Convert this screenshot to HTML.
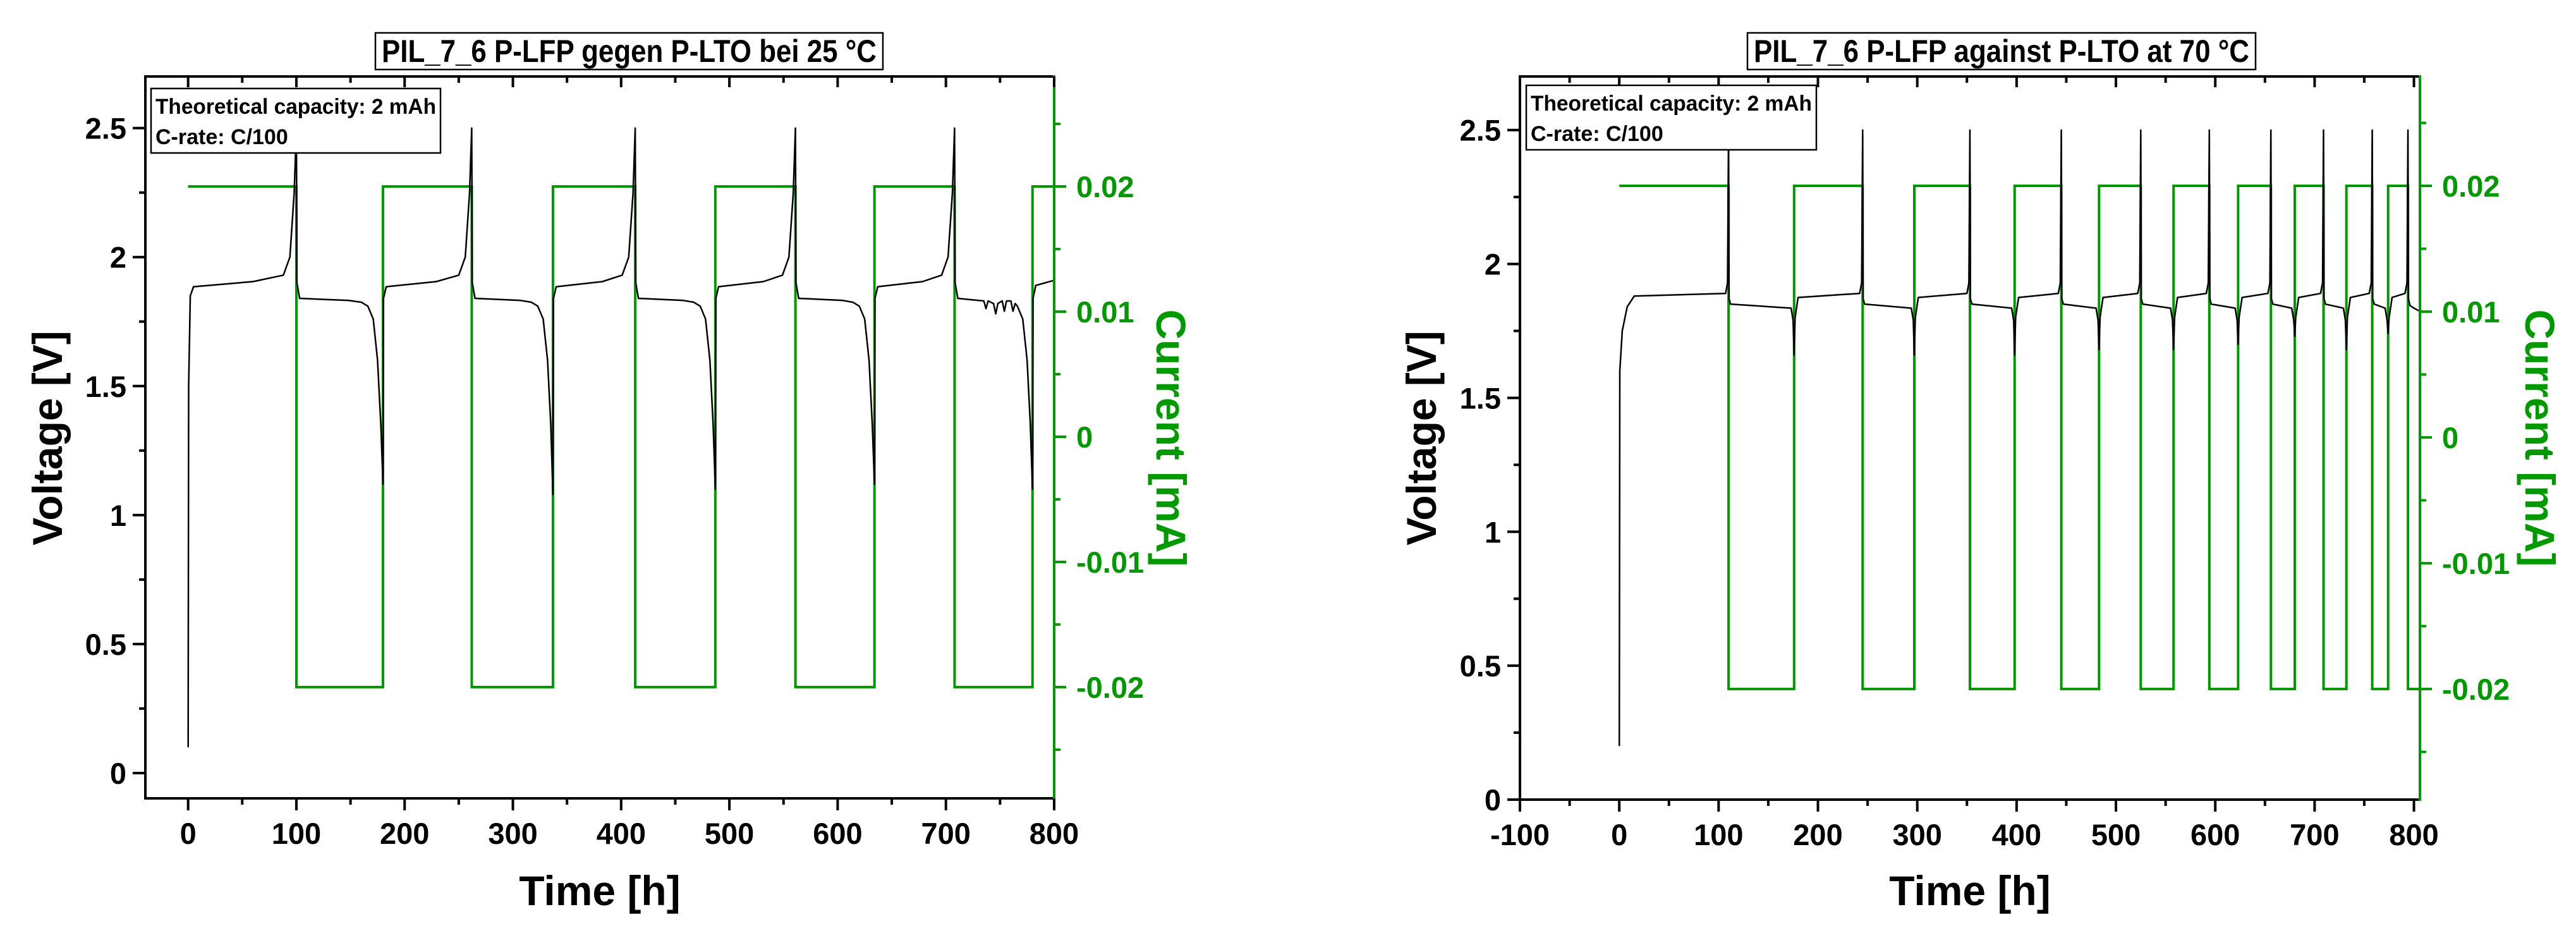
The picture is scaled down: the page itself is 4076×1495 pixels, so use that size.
<!DOCTYPE html>
<html><head><meta charset="utf-8"><style>
html,body{margin:0;padding:0;background:#fff;}
svg{display:block;}
text{font-family:"Liberation Sans Narrow","Liberation Sans",sans-serif;font-weight:bold;}
</style></head><body>
<svg id="svg" width="4076" height="1495" viewBox="0 0 4076 1495" xmlns="http://www.w3.org/2000/svg"></svg>
<script>
// ---------- data: left chart (25 °C) ----------
const leftCurrentSwitches = [0, 100, 180, 262, 337, 413, 487, 561, 634, 708, 780, 800];
const leftCurrentValues = [0.02, -0.02, 0.02, -0.02, 0.02, -0.02, 0.02, -0.02, 0.02, -0.02, 0.02];
const leftChargeStarts = [0, 180, 337, 487, 634, 780];
const leftChargeEnds = [100, 262, 413, 561, 708];
const leftDischargeMins = [1.12, 1.08, 1.1, 1.12, 1.1];
const leftChargePlateau = [1.895, 1.895, 1.895, 1.895, 1.895, 1.9];
const leftDischargePlateau = [1.84, 1.84, 1.84, 1.84, 1.84];
const leftWobble = [[735,1.83],[737,1.8],[739,1.83],[744,1.82],[746,1.78],[748,1.82],[752,1.83],[754,1.79],[756,1.83],[760,1.83],[762,1.79],[764,1.82]];
const leftXTicks = [0, 100, 200, 300, 400, 500, 600, 700, 800];
const leftVTicks = [0, 0.5, 1, 1.5, 2, 2.5];
const leftVTickLabels = ["0", "0.5", "1", "1.5", "2", "2.5"];
// ---------- data: right chart (70 °C) ----------
const rightCurrentSwitches = [0, 110, 176, 245, 297, 353, 398, 445, 483, 525, 558, 594, 623, 656, 680, 709, 732, 758, 774, 794, 805];
const rightCurrentValues = [0.02, -0.02, 0.02, -0.02, 0.02, -0.02, 0.02, -0.02, 0.02, -0.02, 0.02, -0.02, 0.02, -0.02, 0.02, -0.02, 0.02, -0.02, 0.02, -0.02];
const rightChargeStarts = [0, 176, 297, 398, 483, 558, 623, 680, 732, 774];
const rightChargeEnds = [110, 245, 353, 445, 525, 594, 656, 709, 758, 794];
const rightDischargeMins = [1.66, 1.66, 1.66, 1.68, 1.68, 1.7, 1.73, 1.68, 1.74];
const rightChargePlateau = [1.885, 1.885, 1.885, 1.885, 1.885, 1.885, 1.885, 1.885, 1.885, 1.885];
const rightDischargePlateau = [1.85, 1.85, 1.85, 1.85, 1.85, 1.85, 1.85, 1.85, 1.85, 1.845];
const rightXTicks = [-100, 0, 100, 200, 300, 400, 500, 600, 700, 800];
const rightVTicks = [0, 0.5, 1, 1.5, 2, 2.5];
const rightVTickLabels = ["0", "0.5", "1", "1.5", "2", "2.5"];
const currentTicks = [-0.02, -0.01, 0, 0.01, 0.02];
const currentTickLabels = ["-0.02", "-0.01", "0", "0.01", "0.02"];

const NS = "http://www.w3.org/2000/svg";
const svg = document.getElementById('svg');
const GREEN = "#009900";
function el(tag, attrs, parent){const e=document.createElementNS(NS,tag);for(const k in attrs)e.setAttribute(k,attrs[k]);(parent||svg).appendChild(e);return e;}

function buildLeftVoltage(){
  const p=[[0,0.1],[0.5,1.5],[2,1.85],[5,1.885]];
  for(let i=0;i<leftChargeEnds.length;i++){
    const s=leftChargeStarts[i], e=leftChargeEnds[i], n=leftChargeStarts[i+1];
    if(i>0){p.push([s+0.5,1.84],[s+3,leftChargePlateau[i]-0.01]);}
    p.push([s+0.6*(e-s),leftChargePlateau[i]+0.01],[e-12,1.93],[e-6,2.0],[e-2,2.25],[e,2.5],[e+0.5,1.9],[e+3,leftDischargePlateau[i]]);
    if(i===leftChargeEnds.length-1){ leftWobble.forEach(w=>p.push(w)); }
    else p.push([e+0.6*(n-e),leftDischargePlateau[i]-0.008],[n-20,leftDischargePlateau[i]-0.015]);
    p.push([n-14,1.81],[n-9,1.76],[n-5,1.6],[n-2,1.35],[n,leftDischargeMins[i]]);
  }
  const s=leftChargeStarts[leftChargeStarts.length-1];
  p.push([s+0.5,1.84],[s+3,1.89],[800,leftChargePlateau[leftChargePlateau.length-1]+0.01]);
  return p;
}
function buildRightVoltage(){
  const p=[[0,0.2],[0.5,1.6],[3,1.75],[8,1.84],[15,1.88]];
  for(let i=0;i<rightChargeEnds.length;i++){
    const s=rightChargeStarts[i], e=rightChargeEnds[i], n=rightChargeStarts[i+1];
    if(i>0){p.push([s+1,1.8],[s+4,rightChargePlateau[i]-0.01]);}
    p.push([e-3,rightChargePlateau[i]+0.005],[e-1,1.93],[e,2.5],[e+0.5,1.87],[e+2,rightDischargePlateau[i]]);
    if(n!==undefined){p.push([n-3,rightDischargePlateau[i]-0.015],[n-1,1.79],[n,rightDischargeMins[i]]);}
    else p.push([800,rightDischargePlateau[i]-0.01],[805,1.825]);
  }
  return p;
}

function drawChart(cfg){
  const g=el('g',{});
  
  
  const X=t=>cfg.L+(t-cfg.xmin)/(cfg.xmax-cfg.xmin)*(cfg.R-cfg.L);
  const V=v=>cfg.B-(v-cfg.vmin)/(cfg.vmax-cfg.vmin)*(cfg.B-cfg.T);
  const I=c=>cfg.i0-c*cfg.iScale;
  let d=`M${X(cfg.sw[0])},${I(cfg.cv[0])}`;
  for(let k=0;k<cfg.cv.length;k++){
    if(k>0)d+=` L${X(cfg.sw[k])},${I(cfg.cv[k])}`;
    d+=` L${X(cfg.sw[k+1])},${I(cfg.cv[k])}`;
  }
  const cur=el('path',{d:d,fill:'none',stroke:GREEN,'stroke-width':4,'stroke-linejoin':'miter'},g);
  
  
  const vp=cfg.volt.map(q=>`${X(q[0]).toFixed(1)},${V(q[1]).toFixed(1)}`).join(' L');
  const vl=el('path',{d:'M'+vp,fill:'none',stroke:'#000','stroke-width':2.5,'stroke-linejoin':'round'},g);
  
  
  el('path',{d:`M${cfg.R},${cfg.T} L${cfg.L},${cfg.T} L${cfg.L},${cfg.B} L${cfg.R},${cfg.B}`,fill:'none',stroke:'#000','stroke-width':4},g);
  el('line',{x1:cfg.R,y1:cfg.T-2,x2:cfg.R,y2:cfg.B+2,stroke:GREEN,'stroke-width':4},g);
  cfg.xt.forEach(t=>{
    const x=X(t);
    el('line',{x1:x,y1:cfg.B,x2:x,y2:cfg.B+19,stroke:'#000','stroke-width':4},g);
    el('line',{x1:x,y1:cfg.T,x2:x,y2:cfg.T+17,stroke:'#000','stroke-width':4},g);
    const tx=el('text',{x:x,y:cfg.B+72,'font-size':47,'text-anchor':'middle',fill:'#000'},g);
    tx.textContent=String(t);
    
    
    const xm=X(t+50);
    if(t+50<=cfg.xmax){
      el('line',{x1:xm,y1:cfg.B,x2:xm,y2:cfg.B+10,stroke:'#000','stroke-width':4},g);
      el('line',{x1:xm,y1:cfg.T,x2:xm,y2:cfg.T+10,stroke:'#000','stroke-width':4},g);
    }
  });
  cfg.vt.forEach((v,k)=>{
    const y=V(v);
    el('line',{x1:cfg.L-20,y1:y,x2:cfg.L,y2:y,stroke:'#000','stroke-width':4},g);
    const tx=el('text',{x:cfg.L-30,y:y+17,'font-size':47,'text-anchor':'end',fill:'#000'},g);
    tx.textContent=cfg.vl[k];
    
    
    if(v+0.25<cfg.vmax){const ym=V(v+0.25);el('line',{x1:cfg.L-10,y1:ym,x2:cfg.L,y2:ym,stroke:'#000','stroke-width':4},g);}
  });
  currentTicks.forEach((c,k)=>{
    const y=I(c);
    el('line',{x1:cfg.R,y1:y,x2:cfg.R+19,y2:y,stroke:GREEN,'stroke-width':4},g);
    const tx=el('text',{x:cfg.R+35,y:y+17,'font-size':47,'text-anchor':'start',fill:GREEN},g);
    tx.textContent=currentTickLabels[k];
    
    
  });
  [-0.025,-0.015,-0.005,0.005,0.015,0.025].forEach(c=>{const y=I(c);el('line',{x1:cfg.R,y1:y,x2:cfg.R+10,y2:y,stroke:GREEN,'stroke-width':4},g);});
  const xt=el('text',{x:(cfg.L+cfg.R)/2,y:1432,'font-size':66,'text-anchor':'middle',fill:'#000'},g);
  xt.textContent='Time [h]';
  
  
  const yt=el('text',{x:0,y:0,'font-size':66,'text-anchor':'middle',fill:'#000','font-family':'Liberation Sans, sans-serif',transform:`translate(${cfg.vlx},693) rotate(-90)`},g);
  yt.textContent='Voltage [V]';
  
  
  const ct=el('text',{x:0,y:0,'font-size':66,'text-anchor':'middle',fill:GREEN,'font-family':'Liberation Sans, sans-serif',transform:`translate(${cfg.clx},693) rotate(90)`},g);
  ct.textContent='Current [mA]';
  
  
  const lg=el('g',{},g);
  
  
  el('rect',{x:cfg.lgx,y:cfg.lgy,width:cfg.lgw,height:102,fill:'#fff',stroke:'#000','stroke-width':2.5},lg);
  const l1=el('text',{x:cfg.lgx+7,y:cfg.lgy+40,'font-size':34,fill:'#000',textLength:cfg.lgw-14,lengthAdjust:'spacingAndGlyphs'},lg);
  l1.textContent='Theoretical capacity: 2 mAh';
  const l2=el('text',{x:cfg.lgx+7,y:cfg.lgy+88,'font-size':34,fill:'#000'},lg);
  l2.textContent='C-rate: C/100';
  const tg=el('g',{},g);
  
  
  el('rect',{x:cfg.tx,y:52,width:cfg.tw,height:58,fill:'#fff',stroke:'#000','stroke-width':2.5},tg);
  const tt=el('text',{x:cfg.tx+cfg.tw/2,y:98,'font-size':50,'text-anchor':'middle',fill:'#000',textLength:cfg.tw-20,lengthAdjust:'spacingAndGlyphs'},tg);
  tt.textContent=cfg.title;
}

drawChart({name:'left-chart-25C',L:230,R:1668,T:121,B:1263,xmin:-39.5,xmax:800,vmin:-0.098,vmax:2.7,i0:691,iScale:19800,
  sw:leftCurrentSwitches,cv:leftCurrentValues,volt:buildLeftVoltage(),xt:leftXTicks,vt:leftVTicks,vl:leftVTickLabels,
  vlx:98,clx:1830,lgx:239,lgy:140,lgw:458,tx:594,tw:803,title:'PIL_7_6 P-LFP gegen P-LTO bei 25 °C'});
drawChart({name:'right-chart-70C',L:2405,R:3829,T:121,B:1265,xmin:-100,xmax:806,vmin:0,vmax:2.7,i0:692,iScale:19900,
  sw:rightCurrentSwitches,cv:rightCurrentValues,volt:buildRightVoltage(),xt:rightXTicks,vt:rightVTicks,vl:rightVTickLabels,
  vlx:2272,clx:3996,lgx:2415,lgy:135,lgw:459,tx:2765,tw:804,title:'PIL_7_6 P-LFP against P-LTO at 70 °C'});
</script>
</body></html>
